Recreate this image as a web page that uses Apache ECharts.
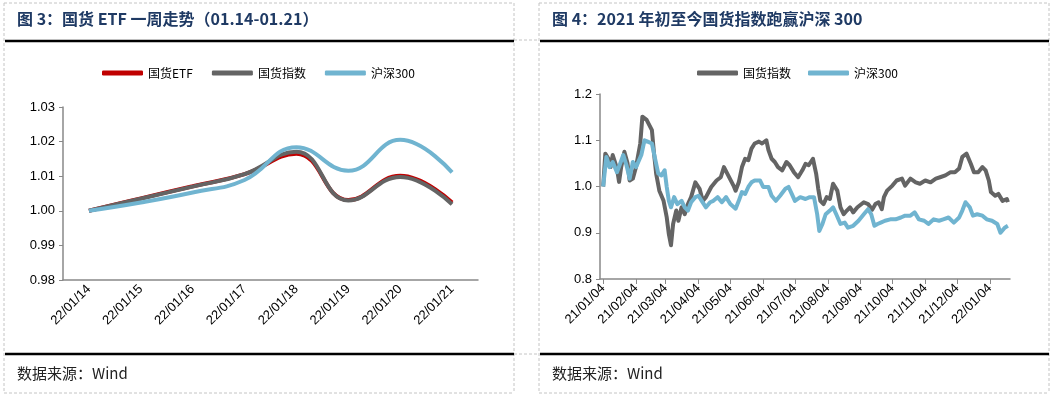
<!DOCTYPE html>
<html><head><meta charset="utf-8">
<script src="https://cdn.jsdelivr.net/npm/echarts@6/dist/echarts.min.js"></script>
<style>html,body{margin:0;padding:0;background:#fff;}#c{width:1053px;height:398px;}</style>
</head><body><div id="c"></div>
<script>
// ---------- Left chart data (图3) ----------
const weekDates = ['22/01/14','22/01/15','22/01/16','22/01/17','22/01/18','22/01/19','22/01/20','22/01/21'];
const etfWeek   = [1.000, 1.0036, 1.0071, 1.0106, 1.0165, 1.0031, 1.0101, 1.0024];
const idxWeek   = [1.000, 1.0035, 1.0070, 1.0106, 1.0171, 1.0030, 1.0098, 1.0019];
const hsWeek    = [1.000, 1.0024, 1.0053, 1.0089, 1.0184, 1.0116, 1.0205, 1.0111];
const leftYTicks = { min: 0.98, max: 1.03, step: 0.01 };

// ---------- Right chart data (图4) ----------
const idxDates = ['2021-01-04','2021-01-06','2021-01-09','2021-01-11','2021-01-13','2021-01-17','2021-01-19','2021-01-21','2021-01-24','2021-01-27','2021-01-29',
'2021-02-01','2021-02-04','2021-02-08','2021-02-10','2021-02-14','2021-02-19','2021-02-21','2021-02-23','2021-02-26',
'2021-03-02','2021-03-05','2021-03-07','2021-03-09','2021-03-11','2021-03-14','2021-03-16','2021-03-19','2021-03-22','2021-03-25','2021-03-28',
'2021-04-01','2021-04-05','2021-04-08','2021-04-11','2021-04-16','2021-04-21','2021-04-25','2021-04-28',
'2021-05-02','2021-05-07','2021-05-09','2021-05-12','2021-05-15','2021-05-18','2021-05-21','2021-05-24','2021-05-27','2021-05-31',
'2021-06-03','2021-06-07','2021-06-09','2021-06-12','2021-06-15','2021-06-18','2021-06-22','2021-06-26','2021-06-29',
'2021-07-03','2021-07-07','2021-07-11','2021-07-14','2021-07-17','2021-07-21','2021-07-24','2021-07-26','2021-07-28','2021-07-31',
'2021-08-03','2021-08-06','2021-08-09','2021-08-13','2021-08-16','2021-08-19','2021-08-22','2021-08-25','2021-08-28',
'2021-09-01','2021-09-07','2021-09-11','2021-09-15','2021-09-18','2021-09-21','2021-09-24','2021-09-26','2021-09-29',
'2021-10-04','2021-10-08','2021-10-13','2021-10-16','2021-10-21','2021-10-26','2021-10-30',
'2021-11-04','2021-11-09','2021-11-14','2021-11-18','2021-11-23','2021-11-28',
'2021-12-02','2021-12-06','2021-12-09','2021-12-13','2021-12-17','2021-12-20','2021-12-24','2021-12-28','2021-12-31',
'2022-01-03','2022-01-05','2022-01-09','2022-01-12','2022-01-16','2022-01-20','2022-01-21'];
const idxValues = [1.000,1.071,1.060,1.042,1.068,1.039,1.010,1.042,1.075,1.050,1.013,
1.017,1.042,1.093,1.151,1.144,1.122,1.071,1.028,0.991,
0.969,0.933,0.897,0.873,0.919,0.948,0.926,0.955,0.940,0.962,0.977,
1.009,0.995,0.969,0.977,0.999,1.013,1.020,1.042,
1.024,1.002,0.991,1.009,1.042,1.060,1.057,1.082,1.093,1.097,
1.093,1.100,1.079,1.060,1.053,1.042,1.035,1.053,1.046,
1.031,1.020,1.035,1.049,1.046,1.060,1.028,0.995,0.969,0.962,
0.977,0.973,1.006,0.991,0.955,0.940,0.948,0.955,0.944,
0.955,0.966,0.962,0.950,0.962,0.966,0.951,0.977,0.991,
1.002,1.013,1.017,1.002,1.017,1.009,1.006,
1.013,1.009,1.017,1.020,1.024,1.031,
1.031,1.039,1.064,1.071,1.049,1.031,1.031,1.042,1.035,
1.013,0.988,0.980,0.984,0.969,0.973,0.966];

const hsDates = ['2021-01-04','2021-01-07','2021-01-10','2021-01-13','2021-01-17','2021-01-20','2021-01-23','2021-01-26','2021-01-29',
'2021-02-01','2021-02-04','2021-02-09','2021-02-12','2021-02-15','2021-02-19','2021-02-22','2021-02-25','2021-02-28',
'2021-03-03','2021-03-05','2021-03-07','2021-03-09','2021-03-12','2021-03-15','2021-03-19','2021-03-22','2021-03-25','2021-03-28',
'2021-04-01','2021-04-04','2021-04-07','2021-04-11','2021-04-15','2021-04-18','2021-04-22','2021-04-26','2021-04-30',
'2021-05-04','2021-05-09','2021-05-12','2021-05-15','2021-05-18','2021-05-21','2021-05-24','2021-05-27',
'2021-06-01','2021-06-04','2021-06-09','2021-06-12','2021-06-16','2021-06-20','2021-06-25','2021-06-28',
'2021-07-01','2021-07-04','2021-07-09','2021-07-14','2021-07-18','2021-07-22','2021-07-25','2021-07-27','2021-07-30',
'2021-08-02','2021-08-06','2021-08-09','2021-08-12','2021-08-16','2021-08-20','2021-08-23','2021-08-28',
'2021-09-02','2021-09-07','2021-09-11','2021-09-14','2021-09-17','2021-09-20','2021-09-23','2021-09-27',
'2021-10-02','2021-10-07','2021-10-12','2021-10-16','2021-10-21','2021-10-25','2021-10-29',
'2021-11-03','2021-11-07','2021-11-12','2021-11-17','2021-11-21','2021-11-26',
'2021-12-01','2021-12-06','2021-12-09','2021-12-12','2021-12-16','2021-12-19','2021-12-23','2021-12-28',
'2022-01-01','2022-01-06','2022-01-11','2022-01-14','2022-01-18','2022-01-21'];
const hsValues = [1.000,1.064,1.042,1.053,1.031,1.049,1.068,1.046,1.017,
1.053,1.042,1.068,1.100,1.097,1.093,1.060,1.028,1.024,
1.035,0.999,0.969,0.955,0.977,0.962,0.969,0.955,0.948,0.966,
0.977,0.980,0.969,0.955,0.966,0.969,0.977,0.966,0.977,
0.962,0.952,0.969,0.988,0.984,0.999,1.009,1.013,
1.013,0.999,0.999,0.980,0.969,0.980,0.995,0.999,
0.984,0.969,0.977,0.973,0.977,0.977,0.940,0.904,0.919,
0.940,0.948,0.955,0.940,0.919,0.922,0.911,0.915,
0.926,0.940,0.951,0.940,0.915,0.919,0.922,0.926,
0.929,0.929,0.933,0.937,0.937,0.944,0.929,
0.926,0.919,0.929,0.926,0.929,0.933,
0.922,0.933,0.948,0.966,0.955,0.937,0.940,0.937,
0.929,0.926,0.919,0.900,0.911,0.915];
const yearAxisStart = '2021-01-01';
const yearAxisEnd = '2022-01-23';
const rightYTicks = { min: 0.8, max: 1.2, step: 0.1 };

// ---------- build calendar category axis ----------
function isoDay(t){ return new Date(t).toISOString().slice(0,10); }
const calendar = [];
for (let t = Date.parse(yearAxisStart+'T00:00:00Z'); t <= Date.parse(yearAxisEnd+'T00:00:00Z'); t += 86400000) calendar.push(isoDay(t));
function toAxis(dates, vals){
  const m = {}; dates.forEach((d,i)=>{ m[d]=vals[i]; });
  return calendar.map(d => (d in m) ? m[d] : null);
}
const isFourth = (i, v) => v.slice(8) === '04';

const RED='#C00000', GRAY='#646464', BLUE='#70B4D0', AXIS='#898989';
const CJK = '"Noto Sans CJK SC", sans-serif';
const NUM = '"Liberation Sans", Arial, sans-serif';

const chart = echarts.init(document.getElementById('c'), null, {renderer:'canvas'});

function dashed(x1,y1,x2,y2){ return {type:'line', silent:true, shape:{x1,y1,x2,y2}, style:{stroke:'#C4C4C4', lineWidth:1, lineDash:[3,2]}}; }
function solid(x1,y1,x2,y2){ return {type:'line', silent:true, shape:{x1,y1,x2,y2}, style:{stroke:'#000', lineWidth:2.5}}; }

const titleStyle = {fontFamily:CJK, fontWeight:'bold', fontSize:16, color:'#1F3A64'};
const srcStyle = {fontFamily:CJK, fontWeight:'normal', fontSize:15, color:'#222'};

chart.setOption({
  animation:false,
  backgroundColor:'#fff',
  title:[
    {text:'图 3：国货 ETF 一周走势（01.14-01.21）', left:17, top:11, padding:0, textStyle:titleStyle},
    {text:'图 4：2021 年初至今国货指数跑赢沪深 300', left:552, top:11, padding:0, textStyle:titleStyle},
    {text:'数据来源：Wind', left:17, top:366, padding:0, textStyle:srcStyle},
    {text:'数据来源：Wind', left:552, top:366, padding:0, textStyle:srcStyle}
  ],
  legend:[
    {data:['国货ETF','国货指数','沪深300'], left:102, top:67, padding:0, itemWidth:41, itemHeight:5, icon:'roundRect', itemGap:19,
     textStyle:{fontFamily:CJK, fontSize:12, color:'#000'}},
    {data:['国货指数','沪深300'], left:697, top:67, padding:0, itemWidth:41, itemHeight:5, icon:'roundRect', itemGap:17,
     textStyle:{fontFamily:CJK, fontSize:12, color:'#000'}}
  ],
  grid:[
    {left:63, right:575, top:107, bottom:118, containLabel:false},
    {left:600, right:43, top:94, bottom:119, containLabel:false}
  ],
  xAxis:[
    {gridIndex:0, type:'category', data:weekDates, boundaryGap:true,
     axisLine:{lineStyle:{color:AXIS, width:1.5}}, axisTick:{length:5, lineStyle:{color:AXIS}},
     axisLabel:{rotate:45, interval:0, fontFamily:NUM, fontSize:13, color:'#000', margin:7}},
    {gridIndex:1, type:'category', data:calendar, boundaryGap:false,
     axisLine:{lineStyle:{color:AXIS, width:1.5}}, axisTick:{length:5, interval:isFourth, lineStyle:{color:AXIS}},
     axisLabel:{rotate:45, interval:isFourth, fontFamily:NUM, fontSize:13, color:'#000', margin:7,
       formatter:v => v.slice(2,4)+'/'+v.slice(5,7)+'/'+v.slice(8,10)}}
  ],
  yAxis:[
    {gridIndex:0, type:'value', min:leftYTicks.min, max:leftYTicks.max, interval:leftYTicks.step,
     splitLine:{show:false}, axisLine:{show:true, lineStyle:{color:AXIS, width:1.5}}, axisTick:{show:true, length:4, lineStyle:{color:AXIS}},
     axisLabel:{fontFamily:NUM, fontSize:13, color:'#000', margin:8, formatter:v=>v.toFixed(2)}},
    {gridIndex:1, type:'value', min:rightYTicks.min, max:rightYTicks.max, interval:rightYTicks.step,
     splitLine:{show:false}, axisLine:{show:true, lineStyle:{color:AXIS, width:1.5}}, axisTick:{show:true, length:4, lineStyle:{color:AXIS}},
     axisLabel:{fontFamily:NUM, fontSize:13, color:'#000', margin:8, formatter:v=>v.toFixed(1)}}
  ],
  series:[
    {name:'国货ETF', type:'line', xAxisIndex:0, yAxisIndex:0, data:etfWeek, smooth:0.45, showSymbol:false, color:RED, lineStyle:{width:4, color:RED}},
    {name:'国货指数', type:'line', xAxisIndex:0, yAxisIndex:0, data:idxWeek, smooth:0.45, showSymbol:false, color:GRAY, lineStyle:{width:4, color:GRAY}},
    {name:'沪深300', type:'line', xAxisIndex:0, yAxisIndex:0, data:hsWeek, smooth:0.45, showSymbol:false, color:BLUE, lineStyle:{width:4, color:BLUE}},
    {name:'国货指数', type:'line', xAxisIndex:1, yAxisIndex:1, data:toAxis(idxDates, idxValues), connectNulls:true, showSymbol:false, color:GRAY, lineStyle:{width:4, color:GRAY, join:'round'}},
    {name:'沪深300', type:'line', xAxisIndex:1, yAxisIndex:1, data:toAxis(hsDates, hsValues), connectNulls:true, showSymbol:false, color:BLUE, lineStyle:{width:4, color:BLUE, join:'round'}}
  ],
  graphic:[
    dashed(4,3,514,3), dashed(539,3,1049,3),
    dashed(4,3,4,393), dashed(514,3,514,393), dashed(539,3,539,393), dashed(1049,3,1049,393),
    dashed(514,40,539,40), dashed(514,354,539,354),
    dashed(4,393,514,393), dashed(539,393,1049,393),
    solid(5,41,514,41), solid(540,41,1049,41),
    solid(5,354,514,354), solid(540,354,1049,354)
  ]
});
</script></body></html>
